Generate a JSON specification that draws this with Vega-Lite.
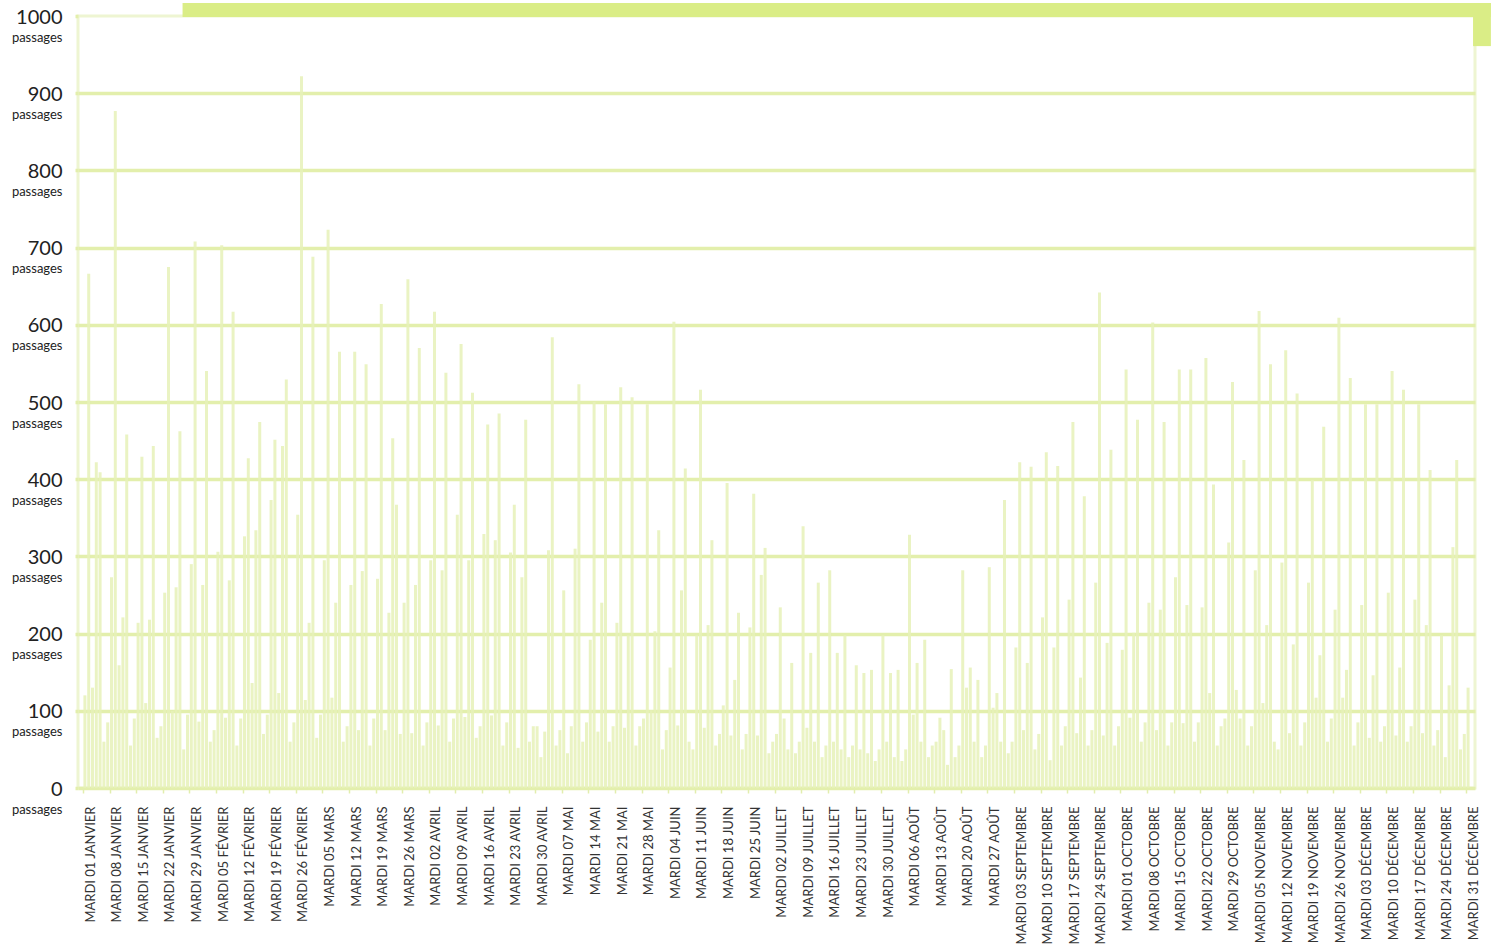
{
  "$schema": "https://vega.github.io/schema/vega-lite/v6.json",
  "width": 1397,
  "height": 772,
  "autosize": {"type": "none"},
  "padding": {"left": 78, "top": 16, "right": 23, "bottom": 158},
  "background": "white",
  "config": {
    "font": "Lato",
    "view": {"stroke": "#eef5d2", "strokeWidth": 3},
    "axisX": {
      "title": null, "grid": false, "domain": false,
      "labelAngle": -90,
      "labelFont": "Lato",
      "labelFontSize": 13,
      "labelColor": "#333333",
      "labelPadding": 13,
      "labelOffset": 7,
      "labelOverlap": false,
      "labelSeparation": 0,
      "labelBound": false,
      "labelFlush": false,
      "tickColor": "#e2eeae",
      "tickSize": 5,
      "tickWidth": 1.5
    }
  },
  "datasets": {
    "comptage": [
      {"jour":0,"passages":120},{"jour":1,"passages":666},{"jour":2,"passages":130},{"jour":3,"passages":422},{"jour":4,"passages":409},{"jour":5,"passages":60},{"jour":6,"passages":85},
      {"jour":7,"passages":273},{"jour":8,"passages":877},{"jour":9,"passages":159},{"jour":10,"passages":221},{"jour":11,"passages":458},{"jour":12,"passages":55},{"jour":13,"passages":90},
      {"jour":14,"passages":214},{"jour":15,"passages":429},{"jour":16,"passages":110},{"jour":17,"passages":218},{"jour":18,"passages":443},{"jour":19,"passages":65},{"jour":20,"passages":80},
      {"jour":21,"passages":253},{"jour":22,"passages":675},{"jour":23,"passages":100},{"jour":24,"passages":260},{"jour":25,"passages":462},{"jour":26,"passages":50},{"jour":27,"passages":95},
      {"jour":28,"passages":290},{"jour":29,"passages":708},{"jour":30,"passages":86},{"jour":31,"passages":263},{"jour":32,"passages":540},{"jour":33,"passages":60},{"jour":34,"passages":75},
      {"jour":35,"passages":306},{"jour":36,"passages":703},{"jour":37,"passages":91},{"jour":38,"passages":269},{"jour":39,"passages":617},{"jour":40,"passages":55},{"jour":41,"passages":90},
      {"jour":42,"passages":326},{"jour":43,"passages":427},{"jour":44,"passages":136},{"jour":45,"passages":334},{"jour":46,"passages":474},{"jour":47,"passages":70},{"jour":48,"passages":95},
      {"jour":49,"passages":373},{"jour":50,"passages":451},{"jour":51,"passages":123},{"jour":52,"passages":443},{"jour":53,"passages":529},{"jour":54,"passages":60},{"jour":55,"passages":85},
      {"jour":56,"passages":354},{"jour":57,"passages":922},{"jour":58,"passages":114},{"jour":59,"passages":214},{"jour":60,"passages":688},{"jour":61,"passages":65},{"jour":62,"passages":95},
      {"jour":63,"passages":295},{"jour":64,"passages":723},{"jour":65,"passages":117},{"jour":66,"passages":240},{"jour":67,"passages":565},{"jour":68,"passages":60},{"jour":69,"passages":80},
      {"jour":70,"passages":263},{"jour":71,"passages":565},{"jour":72,"passages":75},{"jour":73,"passages":281},{"jour":74,"passages":549},{"jour":75,"passages":55},{"jour":76,"passages":90},
      {"jour":77,"passages":271},{"jour":78,"passages":627},{"jour":79,"passages":75},{"jour":80,"passages":227},{"jour":81,"passages":453},{"jour":82,"passages":367},{"jour":83,"passages":70},
      {"jour":84,"passages":240},{"jour":85,"passages":659},{"jour":86,"passages":71},{"jour":87,"passages":263},{"jour":88,"passages":570},{"jour":89,"passages":55},{"jour":90,"passages":85},
      {"jour":91,"passages":295},{"jour":92,"passages":617},{"jour":93,"passages":81},{"jour":94,"passages":282},{"jour":95,"passages":538},{"jour":96,"passages":60},{"jour":97,"passages":90},
      {"jour":98,"passages":354},{"jour":99,"passages":575},{"jour":100,"passages":92},{"jour":101,"passages":295},{"jour":102,"passages":512},{"jour":103,"passages":65},{"jour":104,"passages":80},
      {"jour":105,"passages":329},{"jour":106,"passages":471},{"jour":107,"passages":94},{"jour":108,"passages":321},{"jour":109,"passages":485},{"jour":110,"passages":55},{"jour":111,"passages":85},
      {"jour":112,"passages":305},{"jour":113,"passages":367},{"jour":114,"passages":52},{"jour":115,"passages":273},{"jour":116,"passages":477},{"jour":117,"passages":60},{"jour":118,"passages":80},
      {"jour":119,"passages":80},{"jour":120,"passages":40},{"jour":121,"passages":73},{"jour":122,"passages":308},{"jour":123,"passages":584},{"jour":124,"passages":55},{"jour":125,"passages":75},
      {"jour":126,"passages":256},{"jour":127,"passages":45},{"jour":128,"passages":80},{"jour":129,"passages":310},{"jour":130,"passages":523},{"jour":131,"passages":60},{"jour":132,"passages":85},
      {"jour":133,"passages":192},{"jour":134,"passages":500},{"jour":135,"passages":73},{"jour":136,"passages":240},{"jour":137,"passages":497},{"jour":138,"passages":60},{"jour":139,"passages":80},
      {"jour":140,"passages":214},{"jour":141,"passages":519},{"jour":142,"passages":78},{"jour":143,"passages":198},{"jour":144,"passages":506},{"jour":145,"passages":55},{"jour":146,"passages":80},
      {"jour":147,"passages":90},{"jour":148,"passages":497},{"jour":149,"passages":101},{"jour":150,"passages":203},{"jour":151,"passages":334},{"jour":152,"passages":50},{"jour":153,"passages":75},
      {"jour":154,"passages":156},{"jour":155,"passages":604},{"jour":156,"passages":81},{"jour":157,"passages":256},{"jour":158,"passages":414},{"jour":159,"passages":60},{"jour":160,"passages":50},
      {"jour":161,"passages":198},{"jour":162,"passages":516},{"jour":163,"passages":78},{"jour":164,"passages":211},{"jour":165,"passages":321},{"jour":166,"passages":55},{"jour":167,"passages":70},
      {"jour":168,"passages":107},{"jour":169,"passages":395},{"jour":170,"passages":68},{"jour":171,"passages":140},{"jour":172,"passages":227},{"jour":173,"passages":50},{"jour":174,"passages":70},
      {"jour":175,"passages":208},{"jour":176,"passages":381},{"jour":177,"passages":68},{"jour":178,"passages":276},{"jour":179,"passages":311},{"jour":180,"passages":45},{"jour":181,"passages":60},
      {"jour":182,"passages":70},{"jour":183,"passages":234},{"jour":184,"passages":90},{"jour":185,"passages":50},{"jour":186,"passages":162},{"jour":187,"passages":45},{"jour":188,"passages":60},
      {"jour":189,"passages":339},{"jour":190,"passages":78},{"jour":191,"passages":175},{"jour":192,"passages":60},{"jour":193,"passages":266},{"jour":194,"passages":40},{"jour":195,"passages":55},
      {"jour":196,"passages":282},{"jour":197,"passages":60},{"jour":198,"passages":175},{"jour":199,"passages":50},{"jour":200,"passages":198},{"jour":201,"passages":40},{"jour":202,"passages":55},
      {"jour":203,"passages":159},{"jour":204,"passages":50},{"jour":205,"passages":149},{"jour":206,"passages":45},{"jour":207,"passages":153},{"jour":208,"passages":35},{"jour":209,"passages":50},
      {"jour":210,"passages":198},{"jour":211,"passages":60},{"jour":212,"passages":149},{"jour":213,"passages":40},{"jour":214,"passages":153},{"jour":215,"passages":35},{"jour":216,"passages":50},
      {"jour":217,"passages":328},{"jour":218,"passages":95},{"jour":219,"passages":162},{"jour":220,"passages":60},{"jour":221,"passages":192},{"jour":222,"passages":40},{"jour":223,"passages":55},
      {"jour":224,"passages":60},{"jour":225,"passages":91},{"jour":226,"passages":75},{"jour":227,"passages":30},{"jour":228,"passages":154},{"jour":229,"passages":40},{"jour":230,"passages":55},
      {"jour":231,"passages":282},{"jour":232,"passages":130},{"jour":233,"passages":156},{"jour":234,"passages":60},{"jour":235,"passages":140},{"jour":236,"passages":40},{"jour":237,"passages":55},
      {"jour":238,"passages":286},{"jour":239,"passages":104},{"jour":240,"passages":123},{"jour":241,"passages":60},{"jour":242,"passages":373},{"jour":243,"passages":45},{"jour":244,"passages":60},
      {"jour":245,"passages":182},{"jour":246,"passages":422},{"jour":247,"passages":75},{"jour":248,"passages":162},{"jour":249,"passages":416},{"jour":250,"passages":50},{"jour":251,"passages":70},
      {"jour":252,"passages":221},{"jour":253,"passages":435},{"jour":254,"passages":36},{"jour":255,"passages":182},{"jour":256,"passages":417},{"jour":257,"passages":55},{"jour":258,"passages":80},
      {"jour":259,"passages":244},{"jour":260,"passages":474},{"jour":261,"passages":71},{"jour":262,"passages":143},{"jour":263,"passages":378},{"jour":264,"passages":55},{"jour":265,"passages":75},
      {"jour":266,"passages":266},{"jour":267,"passages":642},{"jour":268,"passages":68},{"jour":269,"passages":188},{"jour":270,"passages":438},{"jour":271,"passages":55},{"jour":272,"passages":80},
      {"jour":273,"passages":179},{"jour":274,"passages":542},{"jour":275,"passages":91},{"jour":276,"passages":201},{"jour":277,"passages":477},{"jour":278,"passages":60},{"jour":279,"passages":85},
      {"jour":280,"passages":240},{"jour":281,"passages":603},{"jour":282,"passages":75},{"jour":283,"passages":231},{"jour":284,"passages":474},{"jour":285,"passages":55},{"jour":286,"passages":85},
      {"jour":287,"passages":273},{"jour":288,"passages":542},{"jour":289,"passages":84},{"jour":290,"passages":237},{"jour":291,"passages":542},{"jour":292,"passages":60},{"jour":293,"passages":85},
      {"jour":294,"passages":234},{"jour":295,"passages":557},{"jour":296,"passages":123},{"jour":297,"passages":393},{"jour":298,"passages":55},{"jour":299,"passages":80},{"jour":300,"passages":90},
      {"jour":301,"passages":318},{"jour":302,"passages":526},{"jour":303,"passages":127},{"jour":304,"passages":90},{"jour":305,"passages":425},{"jour":306,"passages":55},{"jour":307,"passages":80},
      {"jour":308,"passages":282},{"jour":309,"passages":618},{"jour":310,"passages":110},{"jour":311,"passages":211},{"jour":312,"passages":549},{"jour":313,"passages":60},{"jour":314,"passages":50},
      {"jour":315,"passages":292},{"jour":316,"passages":567},{"jour":317,"passages":71},{"jour":318,"passages":186},{"jour":319,"passages":511},{"jour":320,"passages":55},{"jour":321,"passages":85},
      {"jour":322,"passages":266},{"jour":323,"passages":399},{"jour":324,"passages":117},{"jour":325,"passages":172},{"jour":326,"passages":468},{"jour":327,"passages":60},{"jour":328,"passages":90},
      {"jour":329,"passages":231},{"jour":330,"passages":609},{"jour":331,"passages":117},{"jour":332,"passages":153},{"jour":333,"passages":531},{"jour":334,"passages":55},{"jour":335,"passages":85},
      {"jour":336,"passages":237},{"jour":337,"passages":497},{"jour":338,"passages":65},{"jour":339,"passages":146},{"jour":340,"passages":497},{"jour":341,"passages":60},{"jour":342,"passages":80},
      {"jour":343,"passages":253},{"jour":344,"passages":540},{"jour":345,"passages":68},{"jour":346,"passages":156},{"jour":347,"passages":516},{"jour":348,"passages":60},{"jour":349,"passages":80},
      {"jour":350,"passages":244},{"jour":351,"passages":497},{"jour":352,"passages":71},{"jour":353,"passages":211},{"jour":354,"passages":412},{"jour":355,"passages":55},{"jour":356,"passages":75},
      {"jour":357,"passages":198},{"jour":358,"passages":40},{"jour":359,"passages":133},{"jour":360,"passages":312},{"jour":361,"passages":425},{"jour":362,"passages":50},{"jour":363,"passages":70},
      {"jour":364,"passages":130}
    ]
  },
  "resolve": {"axis": {"y": "independent"}},
  "layer": [
    {
      "data": {"name": "comptage"},
      "mark": {"type": "bar", "width": 3, "color": "#e6f1b9", "opacity": 0.85},
      "encoding": {
        "x": {
          "field": "jour", "type": "quantitative",
          "scale": {"domain": [-0.5, 364.5], "nice": false, "zero": false},
          "axis": {
            "title": null,
            "labelOverlap": false,
            "labelOffset": 7,
            "values": [-0.5,6.5,13.5,20.5,27.5,34.5,41.5,48.5,55.5,62.5,69.5,76.5,83.5,90.5,97.5,104.5,111.5,118.5,125.5,132.5,139.5,146.5,153.5,160.5,167.5,174.5,181.5,188.5,195.5,202.5,209.5,216.5,223.5,230.5,237.5,244.5,251.5,258.5,265.5,272.5,279.5,286.5,293.5,300.5,307.5,314.5,321.5,328.5,335.5,342.5,349.5,356.5,363.5],
            "labelExpr": "'MARDI ' + (date(datetime(2019, 0, floor(datum.value + 2))) < 10 ? '0' : '') + date(datetime(2019, 0, floor(datum.value + 2))) + ' ' + ['JANVIER','FÉVRIER','MARS','AVRIL','MAI','JUIN','JUILLET','AOÛT','SEPTEMBRE','OCTOBRE','NOVEMBRE','DÉCEMBRE'][month(datetime(2019, 0, floor(datum.value + 2)))]"
          }
        },
        "y": {
          "field": "passages", "type": "quantitative",
          "scale": {"domain": [0, 1000], "nice": false},
          "axis": {
            "orient": "left",
            "title": null,
            "format": "d",
            "values": [0,100,200,300,400,500,600,700,800,900,1000],
            "domain": false,
            "grid": true,
            "gridColor": "#e3efac",
            "gridWidth": 3.5,
            "gridOpacity": {"condition": {"test": "datum.value >= 1000", "value": 0}, "value": 1},
            "tickColor": "#e3efac",
            "tickWidth": 3.5,
            "tickSize": 3,
            "labelFont": "Lato",
            "labelFontSize": 20,
            "labelColor": "#222222",
            "labelPadding": 13,
            "labelOffset": 1,
            "labelFlush": false,
            "labelBound": false
          }
        }
      }
    },
    {
      "data": {"values": [{}]},
      "mark": {"type": "rule", "opacity": 0},
      "encoding": {
        "y": {
          "datum": 0, "type": "quantitative",
          "scale": {"domain": [0, 1000], "nice": false},
          "axis": {
            "orient": "left",
            "title": null,
            "values": [0,100,200,300,400,500,600,700,800,900,1000],
            "domain": false,
            "grid": false,
            "ticks": false,
            "tickSize": 0,
            "labelExpr": "'passages'",
            "labelFont": "Lato",
            "labelFontSize": 13,
            "labelColor": "#222222",
            "labelPadding": 16,
            "labelOffset": 21,
            "labelFlush": false,
            "labelBound": false
          }
        }
      }
    },
    {
      "data": {"values": [{}]},
      "mark": {"type": "rect", "color": "#daed86"},
      "encoding": {
        "x": {"datum": 25.7, "type": "quantitative", "scale": {"domain": [-0.5, 364.5], "nice": false, "zero": false},
          "axis": {
            "title": null,
            "labelOverlap": false,
            "labelOffset": 7,
            "values": [-0.5,6.5,13.5,20.5,27.5,34.5,41.5,48.5,55.5,62.5,69.5,76.5,83.5,90.5,97.5,104.5,111.5,118.5,125.5,132.5,139.5,146.5,153.5,160.5,167.5,174.5,181.5,188.5,195.5,202.5,209.5,216.5,223.5,230.5,237.5,244.5,251.5,258.5,265.5,272.5,279.5,286.5,293.5,300.5,307.5,314.5,321.5,328.5,335.5,342.5,349.5,356.5,363.5],
            "labelExpr": "'MARDI ' + (date(datetime(2019, 0, floor(datum.value + 2))) < 10 ? '0' : '') + date(datetime(2019, 0, floor(datum.value + 2))) + ' ' + ['JANVIER','FÉVRIER','MARS','AVRIL','MAI','JUIN','JUILLET','AOÛT','SEPTEMBRE','OCTOBRE','NOVEMBRE','DÉCEMBRE'][month(datetime(2019, 0, floor(datum.value + 2)))]"
          }},
        "x2": {"datum": 370},
        "y": {"datum": 998.7, "type": "quantitative", "scale": {"domain": [0, 1000], "nice": false}, "axis": null},
        "y2": {"datum": 1016.8}
      }
    },
    {
      "data": {"values": [{}]},
      "mark": {"type": "rect", "color": "#daed86"},
      "encoding": {
        "x": {"datum": 365.3, "type": "quantitative", "scale": {"domain": [-0.5, 364.5], "nice": false, "zero": false},
          "axis": {
            "title": null,
            "labelOverlap": false,
            "labelOffset": 7,
            "values": [-0.5,6.5,13.5,20.5,27.5,34.5,41.5,48.5,55.5,62.5,69.5,76.5,83.5,90.5,97.5,104.5,111.5,118.5,125.5,132.5,139.5,146.5,153.5,160.5,167.5,174.5,181.5,188.5,195.5,202.5,209.5,216.5,223.5,230.5,237.5,244.5,251.5,258.5,265.5,272.5,279.5,286.5,293.5,300.5,307.5,314.5,321.5,328.5,335.5,342.5,349.5,356.5,363.5],
            "labelExpr": "'MARDI ' + (date(datetime(2019, 0, floor(datum.value + 2))) < 10 ? '0' : '') + date(datetime(2019, 0, floor(datum.value + 2))) + ' ' + ['JANVIER','FÉVRIER','MARS','AVRIL','MAI','JUIN','JUILLET','AOÛT','SEPTEMBRE','OCTOBRE','NOVEMBRE','DÉCEMBRE'][month(datetime(2019, 0, floor(datum.value + 2)))]"
          }},
        "x2": {"datum": 370},
        "y": {"datum": 961, "type": "quantitative", "scale": {"domain": [0, 1000], "nice": false}, "axis": null},
        "y2": {"datum": 1016.8}
      }
    }
  ]
}
